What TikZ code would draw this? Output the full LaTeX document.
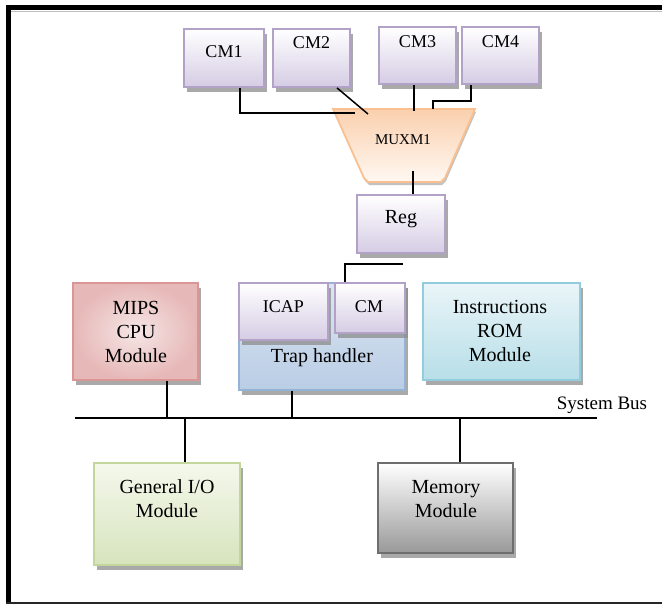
\documentclass[tikz,border=0pt]{standalone}
\usepackage{fontspec}
\setmainfont{Liberation Serif}
\usetikzlibrary{shadows}

% palette
\definecolor{lavline}{HTML}{B3A2C7}
\definecolor{lavfill}{HTML}{D5CCE4}
\definecolor{muxline}{HTML}{FAC090}
\definecolor{muxtop}{HTML}{FAD0AE}
\definecolor{muxbot}{HTML}{FFF8F2}
\definecolor{redline}{HTML}{D99694}
\definecolor{redin}{HTML}{F6E6E6}
\definecolor{redout}{HTML}{E6B8B7}
\definecolor{blueline}{HTML}{95B3D7}
\definecolor{bluetop}{HTML}{DCE6F2}
\definecolor{bluebot}{HTML}{B9CDE5}
\definecolor{cyanline}{HTML}{93CDDD}
\definecolor{cyantop}{HTML}{EAF5F8}
\definecolor{cyanbot}{HTML}{B7DEE8}
\definecolor{greenline}{HTML}{C3D69B}
\definecolor{greentop}{HTML}{F4F8EC}
\definecolor{greenbot}{HTML}{D7E4BD}
\definecolor{greyline}{HTML}{6E6E6E}
\definecolor{greybot}{HTML}{999999}

\begin{document}
\begin{tikzpicture}[x=1pt,y=-1pt,
  blk/.style={draw, line width=1.8pt, inner sep=0pt,
    drop shadow={shadow xshift=3pt, shadow yshift=-5pt, fill=black!45, opacity=0.75}},
  lav/.style={blk, draw=lavline, top color=white, bottom color=lavfill},
  redbox/.style={blk, draw=redline, inner color=redin, outer color=redout},
  bluebox/.style={blk, draw=blueline, top color=bluetop, bottom color=bluebot},
  cyanbox/.style={blk, draw=cyanline, top color=cyantop, bottom color=cyanbot},
  greenbox/.style={blk, draw=greenline, top color=greentop, bottom color=greenbot},
  greybox/.style={blk, draw=greyline, top color=white, bottom color=greybot},
  lbl/.style={font=\fontsize{20}{24}\selectfont, align=center, inner sep=0pt},
  cmlbl/.style={font=\fontsize{18}{22}\selectfont, inner sep=0pt},
  wire/.style={line width=1.5pt, black},
  bus/.style={line width=2pt, black}
]
\useasboundingbox (0,0) rectangle (662,605);

% page frame
\draw[line width=5pt, line join=miter] (8.5,603) -- (8.5,7.5) -- (662,7.5);
\draw[line width=1pt, black!25] (11,11) -- (662,11);
\draw[line width=1.5pt, black!85] (6,603) -- (662,603);

% configuration memories
\node[lav, minimum width=80pt, minimum height=58pt] (cm1) at (224,58) {};
\node[lav, minimum width=77pt, minimum height=58pt] (cm2) at (311.5,58) {};
\node[lav, minimum width=77pt, minimum height=57pt] (cm3) at (417.5,55.5) {};
\node[lav, minimum width=77pt, minimum height=57pt] (cm4) at (500.5,55.5) {};
\node[cmlbl] (cm1t) at (224,52) {CM1};
\node[cmlbl] (cm2t) at (311.5,43) {CM2};
\node[cmlbl] (cm3t) at (417.5,42) {CM3};
\node[cmlbl] (cm4t) at (500.5,42) {CM4};

% multiplexer
\path[draw=muxline, line width=1.8pt, top color=muxtop, bottom color=muxbot,
  drop shadow={shadow xshift=1pt, shadow yshift=-3pt, fill=black!40, opacity=0.6}]
  (333,109) -- (475,109) -- (445,178) -- (441,182) -- (368,182) -- (364,178) -- cycle;
\node[font=\fontsize{15}{18}\selectfont, inner sep=0pt] (muxlbl) at (403,140) {MUXM1};

% register
\node[lav, minimum width=88pt, minimum height=58pt] (reg) at (401,224) {};
\node[lbl] (regt) at (401,219) {Reg};

% processor, trap handler and instruction memory
\node[redbox, minimum width=125pt, minimum height=97pt] (mips) at (135.5,331.5) {};
\node[lbl] (mipst) at (136,332) {MIPS\\CPU\\Module};

\node[bluebox, minimum width=166pt, minimum height=107pt] (trap) at (322,336.5) {};
\node[lav, minimum width=89pt, minimum height=57pt] (icap) at (283.5,311.5) {};
\node[lav, minimum width=70pt, minimum height=50pt] (tcm) at (370,308) {};
\node[cmlbl] (icapt) at (283.5,307) {ICAP};
\node[cmlbl] (tcmt) at (369,307) {CM};
\node[lbl] (trapt) at (322,358) {Trap handler};

\node[cyanbox, minimum width=157pt, minimum height=97pt] (rom) at (501.5,331.5) {};
\node[lbl] (romt) at (500,331) {Instructions\\ROM\\Module};

% peripherals
\node[greenbox, minimum width=146pt, minimum height=102pt] (gio) at (167,514) {};
\node[lbl] (giot) at (167,499) {General I/O\\Module};
\node[greybox, minimum width=135pt, minimum height=90pt] (mem) at (445.5,508) {};
\node[lbl] (memt) at (446,499) {Memory\\Module};

% system bus
\coordinate (busL) at (75,418);
\coordinate (busR) at (597,418);
\draw[bus] (busL) -- (busR);
\node[font=\fontsize{19}{22}\selectfont, inner sep=0pt] (bust) at (602,405) {System Bus};

% memory-to-multiplexer wires
\coordinate (m1) at (355,113);
\coordinate (m2) at (368,114);
\coordinate (m3) at (414,111);
\coordinate (m4) at (433,109);
\draw[wire] ([xshift=16pt]cm1.south) |- (m1);
\draw[wire] ([xshift=25.5pt]cm2.south) -- (m2);
\draw[wire] ([xshift=-3.5pt]cm3.south) -- (m3);
\draw[wire] ([xshift=-29.5pt]cm4.south) -- ++(0,16) -| (m4);

% multiplexer to register
\coordinate (muxo) at (413,171);
\draw[wire] (muxo) -- (muxo |- reg.north);

% register output into the trap handler memory
\coordinate (r1) at (403,264);
\draw[wire] (r1) -| ([xshift=-25pt]tcm.north);

% bus taps
\coordinate (mipsb) at ([xshift=31.5pt]mips.south);
\coordinate (trapb) at ([xshift=-30pt]trap.south);
\coordinate (giob) at ([xshift=18pt]gio.north);
\coordinate (memb) at ([xshift=14.5pt]mem.north);
\draw[wire] (mipsb) -- (mipsb |- busL);
\draw[wire] (trapb) -- (trapb |- busL);
\draw[wire] (giob) -- (giob |- busL);
\draw[wire] (memb) -- (memb |- busL);
\end{tikzpicture}
\end{document}
